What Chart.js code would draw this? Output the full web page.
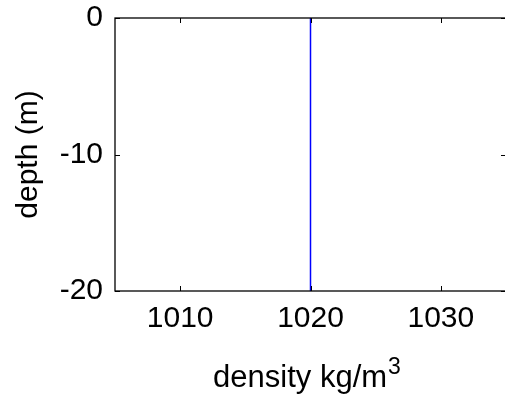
<!DOCTYPE html>
<html>
<head>
<meta charset="utf-8">
<script src="https://cdn.jsdelivr.net/npm/chart.js@4.4.1/dist/chart.umd.min.js"></script>
<style>
  html, body { margin: 0; padding: 0; background: #fff; overflow: hidden; }
  #wrap { width: 505px; height: 400px; overflow: hidden; }
</style>
</head>
<body>
<div id="wrap"><canvas id="densityChart" width="512" height="400"></canvas></div>
<script>
// Density profile data
const densityX = [1020, 1020];
const depthY = [0, -20];
const xTicks = [1010, 1020, 1030];
const yTicks = [0, -10, -20];
const xRange = [1005, 1035];
const yRange = [-20, 0];
const xTitle = 'density kg/m';
const xTitleSup = '3';
const yTitle = 'depth (m)';

const FONT = 'Liberation Sans, Arial, Helvetica, sans-serif';

// Box around the plot area with inward ticks, plus axis titles
const framePlugin = {
    id: 'matlabFrame',
    afterDraw(chart) {
        const { ctx, chartArea: a, scales } = chart;
        const tl = 5;
        ctx.save();
        ctx.strokeStyle = '#000';
        ctx.lineWidth = 1.3;
        ctx.strokeRect(a.left, a.top, a.right - a.left, a.bottom - a.top);
        ctx.lineWidth = 1;
        ctx.beginPath();
        xTicks.forEach(v => {
            const px = Math.round(scales.x.getPixelForValue(v)) + 0.5;
            ctx.moveTo(px, a.bottom); ctx.lineTo(px, a.bottom - tl);
            ctx.moveTo(px, a.top); ctx.lineTo(px, a.top + tl);
        });
        yTicks.forEach(v => {
            const py = Math.round(scales.y.getPixelForValue(v)) + 0.5;
            ctx.moveTo(a.left, py); ctx.lineTo(a.left + tl, py);
            ctx.moveTo(a.right, py); ctx.lineTo(a.right - tl, py);
        });
        ctx.stroke();

        // x title with superscript
        ctx.fillStyle = '#000';
        ctx.textBaseline = 'alphabetic';
        ctx.font = '31px ' + FONT;
        const w1 = ctx.measureText(xTitle).width;
        ctx.font = '23px ' + FONT;
        const w2 = ctx.measureText(xTitleSup).width;
        const cx = (a.left + a.right) / 2 - 4;
        const x0 = cx - (w1 + w2) / 2;
        ctx.font = '31px ' + FONT;
        ctx.textAlign = 'left';
        ctx.fillText(xTitle, x0, 387);
        ctx.font = '23px ' + FONT;
        ctx.fillText(xTitleSup, x0 + w1 + 1, 374);

        // y title
        ctx.translate(29, (a.top + a.bottom) / 2);
        ctx.rotate(-Math.PI / 2);
        ctx.font = '30px ' + FONT;
        ctx.textAlign = 'center';
        ctx.textBaseline = 'middle';
        ctx.fillText(yTitle, 0, 0);
        ctx.restore();
    }
};

new Chart(document.getElementById('densityChart'), {
    type: 'scatter',
    data: {
        datasets: [{
            data: densityX.map((x, i) => ({ x: x, y: depthY[i] })),
            showLine: true,
            borderColor: '#0000ff',
            borderWidth: 1.5,
            pointRadius: 0,
            fill: false
        }]
    },
    options: {
        responsive: false,
        animation: false,
        devicePixelRatio: 1,
        layout: { padding: { left: 0, top: 18, right: 6, bottom: 0 } },
        plugins: {
            legend: { display: false },
            tooltip: { enabled: false }
        },
        scales: {
            x: {
                type: 'linear',
                min: xRange[0],
                max: xRange[1],
                afterBuildTicks: s => { s.ticks = xTicks.map(v => ({ value: v })); },
                afterFit: s => { s.height = 109; s.paddingLeft = 0; s.paddingRight = 0; },
                grid: { display: false, drawTicks: false },
                border: { display: false },
                ticks: {
                    color: '#000',
                    font: { family: FONT, size: 30 },
                    padding: 10,
                    maxRotation: 0,
                    callback: v => String(v)
                }
            },
            y: {
                type: 'linear',
                min: yRange[0],
                max: yRange[1],
                afterBuildTicks: s => { s.ticks = yTicks.map(v => ({ value: v })); },
                afterFit: s => { s.width = 115; s.paddingTop = 0; s.paddingBottom = 0; },
                grid: { display: false, drawTicks: false },
                border: { display: false },
                ticks: {
                    color: '#000',
                    font: { family: FONT, size: 30 },
                    padding: 12,
                    callback: v => String(v)
                }
            }
        }
    },
    plugins: [framePlugin]
});
</script>
</body>
</html>
